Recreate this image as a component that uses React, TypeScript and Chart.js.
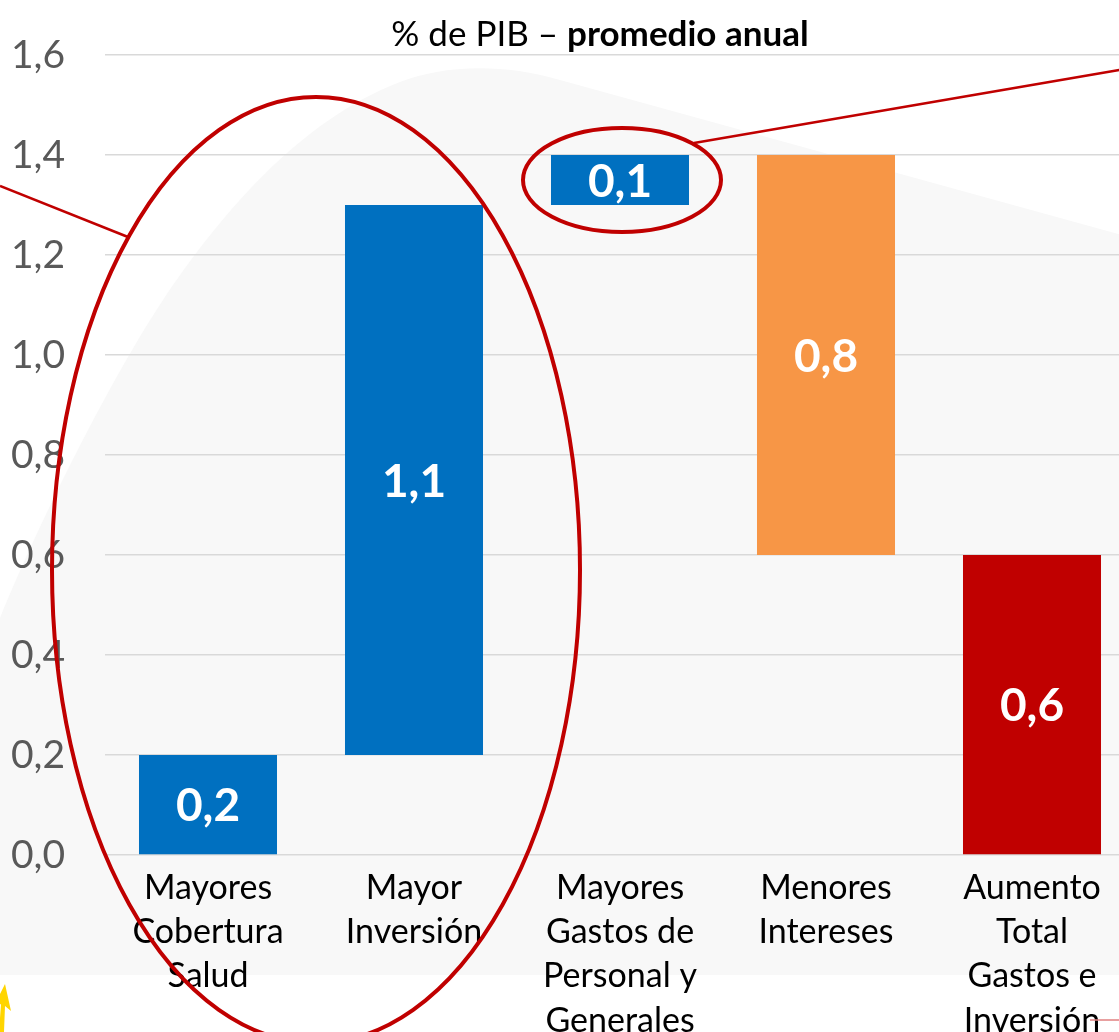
import React, { useEffect, useRef } from "react";
import { Chart, registerables } from "chart.js";

Chart.register(...registerables);

const categories: string[][] = [
  ["Mayores", "Cobertura", "Salud"],
  ["Mayor", "Inversión"],
  ["Mayores", "Gastos de", "Personal y", "Generales"],
  ["Menores", "Intereses"],
  ["Aumento", "Total", "Gastos e", "Inversión"],
];
const barStarts = [0, 0.2, 1.3, 0.6, 0];
const barEnds = [0.2, 1.3, 1.4, 1.4, 0.6];
const barColors = ["#0070C0", "#0070C0", "#0070C0", "#F79646", "#C00000"];
const titleRegular = "% de PIB – ";
const titleBold = "promedio anual";
const yMin = 0;
const yMax = 1.6;
const yStep = 0.2;

const FONT = "Lato, 'Open Sans', sans-serif";
const fmt = (v: number) => v.toFixed(1).replace(".", ",");

const backgroundPlugin = {
  id: "bgBlob",
  beforeDraw(chart: any) {
    const ctx = chart.ctx;
    ctx.save();
    ctx.fillStyle = "#ffffff";
    ctx.fillRect(0, 0, chart.width, chart.height);
    ctx.fillStyle = "#f8f8f8";
    ctx.beginPath();
    ctx.moveTo(0, 975);
    ctx.lineTo(0, 618);
    ctx.bezierCurveTo(40, 520, 110, 380, 163, 300);
    ctx.bezierCurveTo(220, 215, 300, 120, 400, 82);
    ctx.bezierCurveTo(440, 66, 500, 62, 560, 80);
    ctx.lineTo(1140, 240);
    ctx.lineTo(1140, 975);
    ctx.closePath();
    ctx.fill();
    ctx.restore();
  },
};

const valueLabelPlugin = {
  id: "valueLabels",
  afterDatasetsDraw(chart: any) {
    const ctx = chart.ctx;
    const meta = chart.getDatasetMeta(0);
    ctx.save();
    ctx.fillStyle = "#ffffff";
    ctx.font = `bold 46px ${FONT}`;
    ctx.textAlign = "center";
    ctx.textBaseline = "middle";
    meta.data.forEach((bar: any, i: number) => {
      const v = Math.abs(barEnds[i] - barStarts[i]);
      const cy = (bar.y + bar.base) / 2;
      ctx.fillText(fmt(v), bar.x, cy + 2);
    });
    ctx.restore();
  },
};

const annotationPlugin = {
  id: "annotations",
  afterDraw(chart: any) {
    const ctx = chart.ctx;
    ctx.save();
    // title
    ctx.fillStyle = "#000000";
    ctx.textBaseline = "alphabetic";
    ctx.font = `35px ${FONT}`;
    const w1 = ctx.measureText(titleRegular).width;
    ctx.font = `bold 35px ${FONT}`;
    const w2 = ctx.measureText(titleBold).width;
    const sx = 600 - (w1 + w2) / 2;
    ctx.font = `35px ${FONT}`;
    ctx.textAlign = "left";
    ctx.fillText(titleRegular, sx, 46);
    ctx.font = `bold 35px ${FONT}`;
    ctx.fillText(titleBold, sx + w1, 46);

    // ellipses
    ctx.strokeStyle = "#C00000";
    ctx.lineWidth = 4;
    ctx.beginPath();
    ctx.ellipse(316, 570, 264, 473, 0, 0, Math.PI * 2);
    ctx.stroke();
    ctx.beginPath();
    ctx.ellipse(622, 180, 99, 52, 0, 0, Math.PI * 2);
    ctx.stroke();

    // connector lines
    ctx.lineWidth = 2.5;
    ctx.beginPath();
    ctx.moveTo(0, 186);
    ctx.lineTo(128, 237);
    ctx.stroke();
    ctx.beginPath();
    ctx.moveTo(694, 143);
    ctx.lineTo(1125, 69);
    ctx.stroke();
    ctx.strokeStyle = "#e08080";
    ctx.lineWidth = 1.5;
    ctx.beginPath();
    ctx.moveTo(1090, 1020);
    ctx.lineTo(1125, 1020);
    ctx.stroke();

    // yellow arrow
    ctx.fillStyle = "#FFD500";
    ctx.beginPath();
    ctx.moveTo(-1, 1032);
    ctx.lineTo(1, 1004);
    ctx.lineTo(-7, 1008);
    ctx.lineTo(5, 984);
    ctx.lineTo(11, 1011);
    ctx.lineTo(5, 1006);
    ctx.lineTo(4, 1032);
    ctx.closePath();
    ctx.fill();
    ctx.restore();
  },
};

export default function App() {
  const canvasRef = useRef<HTMLCanvasElement | null>(null);

  useEffect(() => {
    if (!canvasRef.current) return;
    const chart = new Chart(canvasRef.current, {
      type: "bar",
      data: {
        labels: categories,
        datasets: [
          {
            data: barStarts.map((s, i) => [s, barEnds[i]]) as any,
            backgroundColor: barColors,
            borderWidth: 0,
            barPercentage: 0.67,
            categoryPercentage: 1,
          },
        ],
      },
      options: {
        animation: false,
        responsive: false,
        devicePixelRatio: 1,
        layout: { padding: { top: 55, left: 0, right: 5, bottom: 0 } },
        plugins: {
          legend: { display: false },
          title: { display: false },
          tooltip: { enabled: false },
        },
        scales: {
          x: {
            grid: { display: false },
            border: { display: false },
            ticks: {
              color: "#000000",
              font: { family: FONT, size: 34, lineHeight: 1.3 },
              padding: 3,
              autoSkip: false,
              maxRotation: 0,
              minRotation: 0,
            },
            afterFit: (scale: any) => {
              scale.height = 205;
            },
          },
          y: {
            min: yMin,
            max: yMax,
            grid: { color: "#d9d9d9", lineWidth: 1.5, drawTicks: false },
            border: { display: false },
            ticks: {
              stepSize: yStep,
              color: "#595959",
              font: { family: FONT, size: 39 },
              padding: 40,
              callback: (v: any) => fmt(Number(v)),
            },
            afterFit: (scale: any) => {
              scale.width = 105;
              scale.paddingTop = 0;
              scale.paddingBottom = 0;
            },
          },
        },
      },
      plugins: [backgroundPlugin, valueLabelPlugin, annotationPlugin],
    });
    return () => chart.destroy();
  }, []);

  return (
    <div
      style={{
        position: "fixed",
        left: 0,
        top: 0,
        width: 1119,
        height: 1032,
        overflow: "hidden",
        background: "#ffffff",
      }}
    >
      <canvas
        ref={canvasRef}
        width={1140}
        height={1060}
        style={{ display: "block", width: 1140, height: 1060 }}
      />
    </div>
  );
}
